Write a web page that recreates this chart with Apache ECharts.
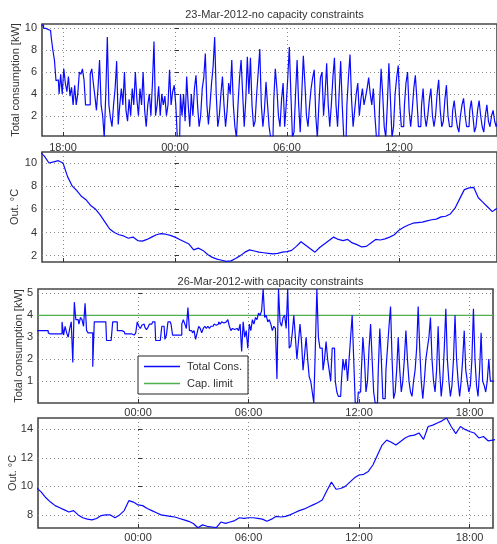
<!DOCTYPE html>
<html>
<head>
<meta charset="utf-8">
<script src="https://cdn.jsdelivr.net/npm/echarts@6/dist/echarts.min.js"></script>
<style>
html,body{margin:0;padding:0;background:#fff;}
#chart{width:497px;height:544px;}
</style>
</head>
<body>
<div id="chart"></div>
<script>
// Hours are measured from midnight of the second day of each run.
// 23-Mar-2012 run: total consumption [kW], 5-minute samples starting 16:50
const cons23Start = -7 - 10 / 60;
const cons23 = [
  10.3, 10.3,
  10.0, 10.0, 9.9, 9.9, 9.8, 9.1, 8.0, 7.1, 5.2, 5.3, 4.0, 5.8,
  4.0, 6.3, 5.0, 4.2, 5.6, 3.8, 4.6, 3.0, 4.8, 3.0, 4.0, 6.0,
  5.8, 6.3, 5.3, 3.0, 3.0, 3.0, 5.8, 6.3, 5.0, 3.8, 2.5, 4.5,
  7.1, 3.0, 2.0, 0.0, 4.0, 9.2, 3.0, 1.8, 1.0, 3.0, 4.5, 7.0,
  1.2, 3.0, 4.5, 3.0, 6.0, 2.5, 1.5, 3.5, 2.0, 4.5, 3.0, 6.0,
  3.5, 2.0, 4.5, 3.0, 6.0, 2.5, 1.0, 3.0, 4.0, 2.0, 5.0, 8.8,
  2.0, 3.0, 4.7, 2.0, 4.0, 3.0, 3.8, 2.0, 3.0, 6.2, 3.0, 4.2,
  4.8, 3.0, 0.0, 0.0, 4.0, 2.0, 4.0, 1.5, 5.6, 3.0, 1.0, 4.0,
  2.0, 4.5, 5.7, 3.0, 1.0, 2.0, 4.5, 5.5, 7.7, 3.0, 1.2, 3.0,
  5.0, 6.5, 9.2, 4.0, 1.0, 2.0, 4.0, 5.6, 3.0, 1.0, 2.5, 5.0,
  4.0, 7.1, 3.0, 1.0, 0.0, 3.0, 5.5, 7.1, 4.0, 1.0, 3.5, 7.4,
  4.0, 7.3, 3.0, 1.0, 1.5, 4.0, 6.0, 8.1, 3.0, 1.0, 2.5, 5.1,
  3.0, 1.0, 0.0, 0.0, 3.5, 6.3, 4.5, 2.0, 1.0, 3.5, 5.0, 1.0,
  3.0, 5.5, 8.3, 4.0, 0.0, 0.5, 4.0, 7.1, 3.0, 0.5, 4.0, 7.5,
  5.0, 2.0, 1.0, 3.0, 4.5, 5.5, 6.2, 2.0, 0.0, 3.0, 5.5, 6.0,
  2.0, 4.0, 6.8, 3.0, 1.0, 3.0, 5.5, 7.3, 3.0, 1.0, 4.0, 7.0,
  3.0, 0.0, 0.0, 3.0, 5.5, 7.6, 3.5, 1.0, 2.5, 4.0, 5.0, 2.0,
  3.5, 4.5, 3.0, 3.7, 4.5, 5.5, 4.0, 3.0, 4.5, 2.0, 0.0, 0.0,
  3.0, 6.3, 4.0, 1.0, 0.0, 3.0, 6.8, 3.5, 0.0, 1.0, 4.0, 5.5,
  6.6, 3.0, 1.0, 1.0, 3.0, 5.0, 6.0, 2.5, 1.0, 2.5, 4.5, 5.7,
  3.5, 1.0, 1.0, 3.0, 4.5, 2.0, 1.0, 2.0, 3.5, 4.5, 2.0, 1.0,
  2.0, 4.0, 5.3, 2.5, 1.0, 1.5, 3.5, 4.8, 2.0, 1.0, 1.0, 2.5,
  3.4, 2.0, 1.0, 0.5, 2.0, 3.0, 3.6, 2.0, 1.0, 1.0, 2.5, 3.4,
  2.0, 0.5, 1.0, 2.5, 3.4, 2.0, 1.0, 0.5, 2.0, 3.0, 1.5, 1.0,
  2.0, 2.5, 1.5, 1.0, 1.5
];

// 23-Mar-2012 run: outdoor temperature [°C], 15-minute samples starting 16:45
const temp23Start = -7.25;
const temp23 = [
  11.0,
  10.6, 10.0, 10.1, 10.2,
  10.0, 8.8, 8.0, 7.6,
  7.1, 6.8, 6.3, 6.0,
  5.5, 4.9, 4.3, 4.0,
  3.8, 3.7, 3.5, 3.6,
  3.3, 3.25, 3.4, 3.6,
  3.8, 3.9, 3.85, 3.75,
  3.6, 3.4, 3.2, 3.0,
  2.5, 2.65, 2.45, 2.1,
  1.85, 1.7, 1.6, 1.5,
  1.55, 1.75, 2.0, 2.3,
  2.5, 2.4, 2.3, 2.25,
  2.2, 2.15, 2.2, 2.3,
  2.35, 2.45, 2.8, 3.2,
  2.9, 2.6, 2.3, 2.7,
  3.0, 3.3, 3.6, 3.4,
  3.3, 3.4, 3.1, 2.95,
  2.75, 2.8, 3.1, 3.4,
  3.35, 3.45, 3.6, 3.8,
  4.2, 4.45, 4.65, 4.8,
  4.85, 4.9, 5.0, 5.1,
  5.15, 5.35, 5.4, 5.6,
  6.1, 6.9, 7.7, 7.85,
  7.9, 7.0, 6.6, 6.2,
  5.8, 6.1
];

// 26-Mar-2012 run: total consumption [kW], 5-minute samples starting 18:30
const cons26Start = -5.5;
const cons26 = [
  3.3, 3.3, 3.3, 3.3, 3.3, 3.3,
  3.3, 3.3, 3.2, 3.15, 3.15, 3.15, 3.15, 3.15, 3.15, 3.15, 3.15, 3.7,
  3.1, 3.5, 3.2, 3.0, 3.4, 3.7, 1.85, 4.6, 3.8, 3.8, 3.6, 3.9,
  3.8, 3.5, 4.55, 3.3, 3.2, 3.2, 3.2, 1.65, 3.7, 3.7, 3.7, 3.7,
  3.7, 3.7, 3.7, 3.7, 2.85, 2.85, 2.85, 2.85, 3.7, 3.7, 3.7, 3.3,
  3.3, 3.3, 3.3, 3.25, 3.15, 3.15, 3.15, 3.15, 3.15, 3.1, 3.15, 3.2,
  3.7, 3.5, 3.4, 3.55, 3.6, 3.45, 3.35, 3.45, 3.6, 3.6, 3.7, 3.7,
  2.85, 2.85, 2.85, 2.85, 3.5, 3.5, 2.9, 3.1, 3.7, 3.7, 3.6, 3.1,
  3.1, 3.1, 3.1, 3.1, 3.1, 3.6, 3.8, 3.6, 3.4, 4.35, 3.3, 3.3,
  3.2, 3.3, 2.9, 3.2, 3.5, 3.4, 3.2, 3.4, 3.5, 3.4, 3.5, 3.4,
  3.5, 3.5, 3.6, 3.55, 3.6, 3.7, 3.6, 3.7, 3.65, 3.7, 3.75, 3.8,
  3.5, 3.3, 3.4, 3.35, 3.4, 3.4, 3.3, 3.6, 2.35, 3.7, 3.0, 3.3,
  2.5, 3.6, 3.3, 3.8, 3.6, 3.9, 3.8, 4.1, 4.0, 4.2, 5.2, 3.9,
  4.0, 3.7, 3.8, 3.6, 3.3, 3.5, 3.4, 1.1, 5.2, 3.7, 3.5, 3.9,
  4.0, 3.4, 5.2, 2.5, 2.6, 3.2, 4.0, 3.0, 2.0, 2.8, 3.6, 2.8,
  1.5, 2.2, 3.0, 2.0, 1.2, 1.0, 0.5, 0.0, 2.5, 5.2, 3.0, 2.5,
  2.5, 1.5, 2.0, 2.8, 2.0, 1.5, 1.0, 2.5, 2.5, 1.0, 0.5, 0.3,
  0.3, 1.0, 2.0, 1.5, 2.0, 1.0, 2.0, 3.0, 4.0, 2.0, 0.0, 0.0,
  0.5, 0.5, 1.5, 3.0, 2.0, 0.5, 1.0, 2.5, 3.6, 2.0, 0.5, 0.0,
  0.0, 1.5, 3.4, 2.0, 0.2, 0.2, 1.5, 2.5, 3.5, 4.4, 2.0, 0.2,
  0.5, 1.5, 3.0, 1.5, 0.5, 1.0, 2.0, 3.3, 2.0, 1.0, 0.5, 0.3,
  1.0, 1.5, 2.5, 4.4, 2.5, 1.0, 0.2, 1.0, 2.0, 2.5, 3.0, 3.9,
  2.0, 1.0, 0.5, 1.5, 3.5, 1.5, 0.3, 1.0, 2.5, 4.3, 2.0, 1.0,
  0.3, 0.8, 2.0, 4.0, 2.0, 1.0, 0.3, 1.0, 2.0, 3.3, 1.5, 1.0,
  0.5, 0.8, 2.0, 4.3, 2.0, 0.8, 0.3, 1.5, 3.2, 1.0, 0.8, 0.5,
  1.0, 2.0, 1.0, 1.0, 1.0
];

// Capacity limit applied during the 26-Mar-2012 run [kW]
const capLimit = 4;

// 26-Mar-2012 run: outdoor temperature [°C], 15-minute samples starting 18:30
const temp26Start = -5.5;
const temp26 = [
  9.9, 9.6,
  9.2, 8.9, 8.65, 8.5,
  8.35, 8.2, 8.3, 8.0,
  7.8, 7.7, 7.65, 7.75,
  7.95, 8.0, 8.0, 7.8,
  8.0, 8.3, 9.0, 8.9,
  8.7, 8.65, 8.45, 8.3,
  8.15, 8.0, 7.95, 7.9,
  7.85, 7.75, 7.65, 7.55,
  7.4, 7.1, 7.3, 7.2,
  7.15, 7.1, 7.5, 7.4,
  7.5, 7.6, 7.8, 7.75,
  7.8, 7.8, 7.75, 7.7,
  7.55, 7.7, 7.9, 7.85,
  7.9, 8.0, 8.15, 8.3,
  8.4, 8.55, 8.7, 8.85,
  9.05, 9.7, 10.3, 9.8,
  9.85, 10.0, 10.3, 10.6,
  10.8, 10.85, 11.05, 11.5,
  12.2, 12.9, 13.25, 13.1,
  12.9, 13.15, 13.4, 13.55,
  13.6, 13.75, 13.3, 14.2,
  14.3, 14.45, 14.6, 14.8,
  14.2, 13.7, 14.2, 14.0,
  13.85, 13.75, 13.4, 13.5,
  13.2, 13.25, 13.3
];

// Axis ticks
const timeTicks23 = [-6, 0, 6, 12];
const timeTicks26 = [0, 6, 12, 18];
const consTicks23 = [2, 4, 6, 8, 10];
const tempTicks23 = [2, 4, 6, 8, 10];
const consTicks26 = [1, 2, 3, 4, 5];
const tempTicks26 = [8, 10, 12, 14];

const titles = ['23-Mar-2012-no capacity constraints', '26-Mar-2012-with capacity constraints'];

function toPoints(start, stepHours, vals) {
  return vals.map((v, i) => [start + i * stepHours, v]);
}
function clock(v) {
  const h = ((Math.round(v) % 24) + 24) % 24;
  return (h < 10 ? '0' : '') + h + ':00';
}

const FONT = "'Liberation Sans', Arial, Helvetica, sans-serif";
const TXT = '#333';
const BLUE = '#0a0aff';
const GREEN = '#4fb04f';

const grids = [
  { left: 42, top: 24, width: 455, height: 112 },
  { left: 42, top: 152, width: 455, height: 110 },
  { left: 38, top: 289, width: 455, height: 114 },
  { left: 38, top: 418, width: 455, height: 110 }
].map(g => Object.assign({
  show: true, borderColor: '#474747', borderWidth: 1.6, backgroundColor: '#fff',
  containLabel: false, outerBoundsMode: 'none'
}, g));

const xRange = [[-7.125, 17.25], [-7.125, 17.25], [-5.43, 19.27], [-5.43, 19.27]];
const xTicks = [timeTicks23, timeTicks23, timeTicks26, timeTicks26];
const xLabelShow = [true, false, true, true];
const xLabelMargin = [6, 6, 4, 4];

const dotted = { color: '#8a8a8a', width: 1, type: [1, 3] };

const xAxes = grids.map((g, i) => ({
  gridIndex: i,
  type: 'value',
  min: xRange[i][0],
  max: xRange[i][1],
  axisLine: { show: false },
  axisTick: { show: true, inside: true, length: 4, customValues: xTicks[i], lineStyle: { color: '#333', width: 1 } },
  axisLabel: {
    show: xLabelShow[i], customValues: xTicks[i], formatter: clock,
    margin: xLabelMargin[i], fontSize: 11, color: TXT, fontFamily: FONT
  },
  splitLine: { show: true, lineStyle: dotted }
}));

const yRange = [[0.15, 10.4], [1.45, 10.95], [0, 5.2], [7.08, 14.8]];
const yTicks = [consTicks23, tempTicks23, consTicks26, tempTicks26];
const yNames = ['Total consumption [kW]', 'Out. °C', 'Total consumption [kW]', 'Out. °C'];
const yNameGap = [21, 22, 14, 20];

const yAxes = grids.map((g, i) => ({
  gridIndex: i,
  type: 'value',
  min: yRange[i][0],
  max: yRange[i][1],
  name: yNames[i],
  nameLocation: 'middle',
  nameGap: yNameGap[i],
  nameRotate: 90,
  nameMoveOverlap: false,
  nameTextStyle: { fontSize: 11, color: TXT, fontFamily: FONT },
  axisLine: { show: false },
  axisTick: { show: true, inside: true, length: 4, customValues: yTicks[i], lineStyle: { color: '#333', width: 1 } },
  axisLabel: { customValues: yTicks[i], margin: 5, fontSize: 11, color: TXT, fontFamily: FONT },
  splitLine: { show: true, lineStyle: dotted }
}));

const series = [
  {
    name: 'cons23', type: 'line', xAxisIndex: 0, yAxisIndex: 0,
    data: toPoints(cons23Start, 5 / 60, cons23), step: 'middle',
    symbol: 'none', lineStyle: { color: BLUE, width: 1.2 }, clip: true, silent: true
  },
  {
    name: 'temp23', type: 'line', xAxisIndex: 1, yAxisIndex: 1,
    data: toPoints(temp23Start, 0.25, temp23),
    symbol: 'none', lineStyle: { color: BLUE, width: 1.2 }, clip: true, silent: true
  },
  {
    name: 'Total Cons.', type: 'line', xAxisIndex: 2, yAxisIndex: 2,
    data: toPoints(cons26Start, 5 / 60, cons26), step: 'middle',
    symbol: 'none', itemStyle: { color: BLUE }, lineStyle: { color: BLUE, width: 1.2 }, clip: true, silent: true
  },
  {
    name: 'Cap. limit', type: 'line', xAxisIndex: 2, yAxisIndex: 2,
    data: [[xRange[2][0], capLimit], [xRange[2][1], capLimit]],
    symbol: 'none', itemStyle: { color: GREEN }, lineStyle: { color: GREEN, width: 1.3 }, z: 1, silent: true
  },
  {
    name: 'temp26', type: 'line', xAxisIndex: 3, yAxisIndex: 3,
    data: toPoints(temp26Start, 0.25, temp26),
    symbol: 'none', lineStyle: { color: BLUE, width: 1.2 }, clip: true, silent: true
  }
];

const chart = echarts.init(document.getElementById('chart'), null, { renderer: 'canvas' });
chart.setOption({
  animation: false,
  backgroundColor: '#fff',
  textStyle: { fontFamily: FONT },
  title: [
    { text: titles[0], left: 269.5, top: 4, textAlign: 'center',
      textStyle: { fontSize: 11, fontWeight: 'normal', color: TXT, fontFamily: FONT } },
    { text: titles[1], left: 265.5, top: 271, textAlign: 'center',
      textStyle: { fontSize: 11, fontWeight: 'normal', color: TXT, fontFamily: FONT } }
  ],
  legend: {
    data: [
      { name: 'Total Cons.', icon: 'rect', itemStyle: { color: BLUE } },
      { name: 'Cap. limit', icon: 'rect', itemStyle: { color: GREEN } }
    ],
    orient: 'vertical',
    left: 138, top: 356,
    backgroundColor: '#fff',
    borderColor: '#222', borderWidth: 1,
    borderRadius: 0,
    padding: [5, 6, 5, 6],
    itemGap: 6,
    itemWidth: 36, itemHeight: 1.3,
    selectedMode: false,
    textStyle: { fontSize: 11, color: TXT, fontFamily: FONT, padding: [0, 0, 0, 2] }
  },
  grid: grids,
  xAxis: xAxes,
  yAxis: yAxes,
  series: series
});
</script>
</body>
</html>
